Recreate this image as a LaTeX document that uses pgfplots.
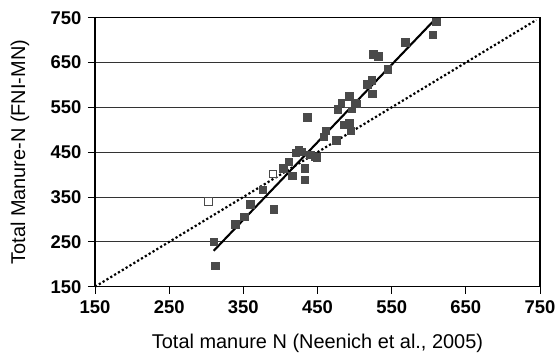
\documentclass[border=0pt]{standalone}
\usepackage{pgfplots}
\pgfplotsset{compat=1.18}
\usepackage{fontspec}
\setmainfont{Liberation Sans}
\definecolor{mk}{HTML}{4A4A4A}
\begin{document}
\begin{tikzpicture}
\begin{axis}[
  scale only axis,
  width=445bp, height=269bp,
  xmin=150, xmax=750, ymin=150, ymax=750,
  xtick={150,250,...,750}, ytick={150,250,...,750},
  tick align=outside,
  major tick length=7bp,
  ymajorgrids,
  grid style={black!80, line width=0.9pt},
  axis line style={line width=1.3pt},
  tick style={black, line width=0.9pt},
  axis x line*=bottom, axis y line*=left,
  /pgf/number format/assume math mode=true,
  ticklabel style={font=\fontsize{18.5}{20}\selectfont\bfseries},
  xticklabel style={yshift=-3bp},
  yticklabel style={xshift=-3bp},
  label style={font=\fontsize{20}{22}\selectfont},
  xlabel={Total manure N (Neenich et al., 2005)},
  ylabel={Total Manure-N (FNI-MN)},
  xlabel style={at={(axis description cs:0.5,-0.209)}, anchor=center},
  ylabel style={at={(axis description cs:-0.1685,0.5)}, anchor=center},
  clip=false,
]
\draw[line width=1.3pt] (axis cs:150,750) -- (axis cs:750,750) -- (axis cs:750,150);
\addplot[only marks, mark=square*, mark size=3.7bp, mark options={fill=mk, draw=mk}] coordinates {
(310,250) (312,197) (339,289) (351,306) (359,334) (376,367) (391,323)
(404,414) (411,429) (416,397) (421,449) (425,455) (429,451) (433,414) (433,388)
(440,444) (446,440) (449,439) (436,528) (458,485) (461,498) (475,477)
(477,546) (483,561) (493,576) (496,548) (503,558) (500,561) (485,511) (493,516) (495,498)
(517,602) (523,611) (524,580) (545,635) (525,669) (532,664) (568,695) (605,712) (610,741)
};
\addplot[only marks, mark=square*, mark size=3.7bp, mark options={fill=white, draw=mk, line width=0.7pt}] coordinates {
(303,340) (390,402) (491,558)
};
\addplot[black, line width=2.1pt] coordinates {(310,230) (610,749)};
\addplot[black, line width=2.2pt, dash pattern=on 2.2pt off 2.3pt] coordinates {(150,150) (745,745)};
\end{axis}
\pgfresetboundingbox
\path (current axis.south west) ++(-95bp,-70.3bp) coordinate (bbA);
\path (current axis.north east) ++(18bp,17.7bp) coordinate (bbB);
\path[use as bounding box] (bbA) rectangle (bbB);
\end{tikzpicture}
\end{document}
